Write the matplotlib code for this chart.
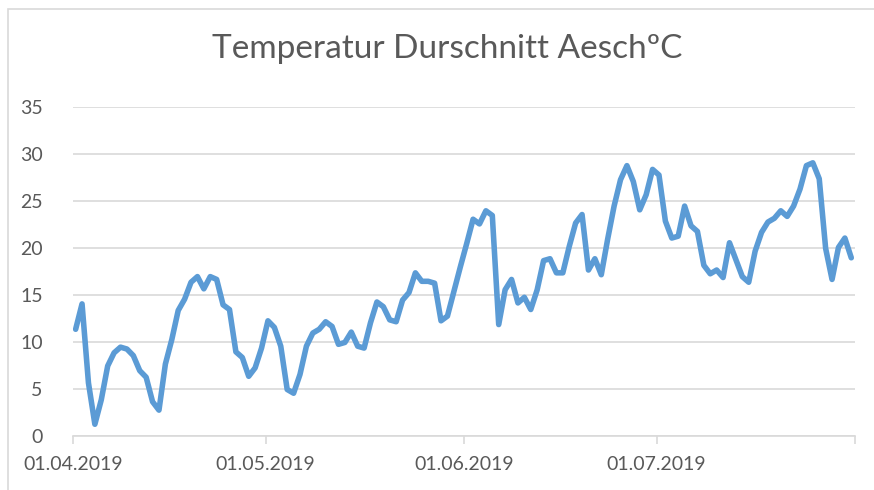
import numpy as np
import matplotlib
matplotlib.use("Agg")
import matplotlib.pyplot as plt
from matplotlib.patches import Rectangle

# daily mean temperature, 01.04.2019 - 31.07.2019
temps = [
    11.4, 14.1, 5.7, 1.3, 3.9, 7.5, 8.9, 9.5, 9.3, 8.6,
    7.0, 6.3, 3.7, 2.8, 7.7, 10.3, 13.4, 14.6, 16.4, 17.0,
    15.7, 17.0, 16.7, 14.0, 13.5, 9.0, 8.4, 6.4, 7.3, 9.4,
    12.3, 11.6, 9.6, 5.0, 4.6, 6.6, 9.6, 11.0, 11.4, 12.2,
    11.7, 9.8, 10.0, 11.1, 9.6, 9.4, 12.1, 14.3, 13.8, 12.4,
    12.2, 14.5, 15.3, 17.4, 16.5, 16.5, 16.3, 12.3, 12.8, 15.4,
    18.0, 20.5, 23.1, 22.6, 24.0, 23.5, 11.9, 15.6, 16.7, 14.2,
    14.8, 13.5, 15.6, 18.7, 18.9, 17.4, 17.4, 20.2, 22.7, 23.6,
    17.7, 18.9, 17.2, 21.0, 24.5, 27.3, 28.8, 27.1, 24.1, 25.7,
    28.4, 27.8, 22.9, 21.1, 21.3, 24.5, 22.4, 21.8, 18.2, 17.3,
    17.7, 16.9, 20.6, 18.8, 17.0, 16.4, 19.7, 21.7, 22.8, 23.2,
    24.0, 23.4, 24.5, 26.3, 28.8, 29.1, 27.4, 20.0, 16.7, 20.1,
    21.1, 19.0,
]
tick_days = [0, 30, 61, 91, 122]
tick_labels = ["01.04.2019", "01.05.2019", "01.06.2019", "01.07.2019", ""]
y_ticks = [0, 5, 10, 15, 20, 25, 30, 35]

text_col = "#595959"
grid_col = "#D9D9D9"
font = ["Lato", "DejaVu Sans"]

fig = plt.figure(figsize=(8.74, 4.9), dpi=100)
fig.patches.append(Rectangle((8 / 874, -0.1), 1.2, (490 - 9) / 490 + 0.1,
                             transform=fig.transFigure, fill=False,
                             edgecolor=grid_col, linewidth=1.2))

ax = fig.add_axes([0.0839, 0.1092, 0.9787 - 0.0839, 0.781 - 0.1092])
off = 0.36
days = np.arange(len(temps))
ax.plot(days, temps, color="#5B9BD5", linewidth=4.0, solid_joinstyle="round",
        solid_capstyle="round", zorder=3)

ax.set_xlim(-off, 122 - off)
ax.set_ylim(0, 35)
ax.set_yticks(y_ticks)
ax.set_xticks([d - off for d in tick_days])
ax.set_xticklabels(tick_labels)
ax.grid(axis="y", color=grid_col, linewidth=1.2)
ax.set_axisbelow(True)
for s in ["top", "right", "left"]:
    ax.spines[s].set_visible(False)
ax.spines["bottom"].set_color(grid_col)
ax.spines["bottom"].set_linewidth(1.2)
ax.tick_params(axis="y", length=0, pad=22, labelsize=14, labelcolor=text_col)
ax.tick_params(axis="x", length=6, width=1.2, color=grid_col, pad=8,
               labelsize=14, labelcolor=text_col)
for lbl in ax.get_xticklabels() + ax.get_yticklabels():
    lbl.set_family(font)

fig.text(0.512, 0.9, "Temperatur Durschnitt AeschºC", ha="center", va="center",
         fontsize=24, color=text_col, family=font)

fig.savefig("out.png", dpi=100)
